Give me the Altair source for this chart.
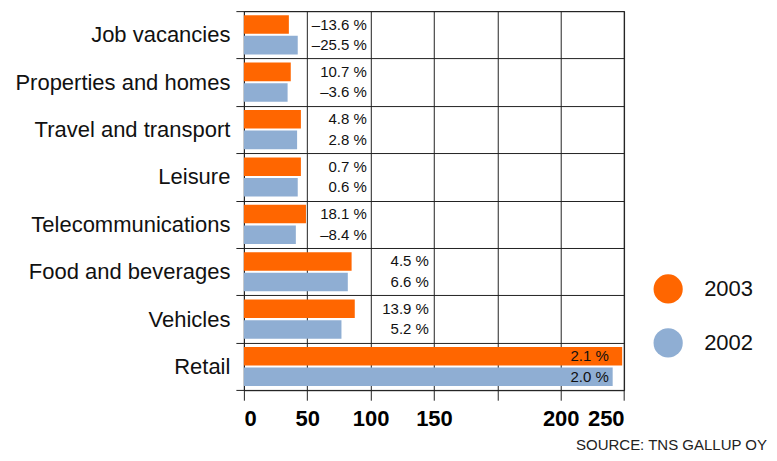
import altair as alt
import pandas as pd

categories = ["Job vacancies", "Properties and homes", "Travel and transport", "Leisure",
              "Telecommunications", "Food and beverages", "Vehicles", "Retail"]
years = ["2003", "2002"]
v2003 = [35.5, 37, 45, 45, 49, 85, 87.5, 248.5]
v2002 = [42.5, 34.5, 42, 42.5, 41, 82, 77, 241]
chg2003 = ["–13.6 %", "10.7 %", "4.8 %", "0.7 %", "18.1 %", "4.5 %", "13.9 %", "2.1 %"]
chg2002 = ["–25.5 %", "–3.6 %", "2.8 %", "0.6 %", "–8.4 %", "6.6 %", "5.2 %", "2.0 %"]
label_anchor = [97, 97, 97, 97, 97, 146, 146, 238]
x_ticks = [0, 50, 100, 150, 175, 200, 250]
colors = ["#FF6600", "#8FAED3"]

rows = []
for i, c in enumerate(categories):
    rows.append({"category": c, "year": "2003", "value": v2003[i], "label": chg2003[i], "anchor": label_anchor[i]})
    rows.append({"category": c, "year": "2002", "value": v2002[i], "label": chg2002[i], "anchor": label_anchor[i]})
df = pd.DataFrame(rows)

W = 380.4
H = 379.3
FONT = "Liberation Sans"

xscale = alt.Scale(domain=[0, 150, 200, 250], range=[0, 190.2, 317, W], nice=False, zero=False)
yscale = alt.Scale(domain=categories, paddingInner=0, paddingOuter=0)
offscale = alt.Scale(domain=years, paddingInner=0.1, paddingOuter=0.2)

bars = alt.Chart(df).mark_bar(cornerRadius=0).encode(
    x=alt.X("value:Q", scale=xscale, title=None,
            axis=alt.Axis(values=x_ticks, labelExpr="datum.value == 175 ? '' : datum.label",
                          grid=True, gridColor="#222", gridWidth=1, tickSize=10, tickColor="#222",
                          domain=False, labelFont=FONT, labelFontSize=22, labelFontWeight="bold",
                          labelColor="#000", labelPadding=8)),
    y=alt.Y("category:N", scale=yscale, sort=categories, title=None,
            axis=alt.Axis(tickBand="extent", grid=True, gridColor="#222", gridWidth=1,
                          tickSize=8, tickColor="#222", domain=False, labelFont=FONT,
                          labelFontSize=22, labelColor="#111", labelPadding=6, labelLimit=400)),
    yOffset=alt.YOffset("year:N", scale=offscale, sort=years),
    color=alt.Color("year:N", scale=alt.Scale(domain=years, range=colors), sort=years,
                    legend=alt.Legend(title=None, orient="none", legendX=409.5, legendY=263,
                                      symbolType="circle", symbolSize=855, symbolStrokeWidth=0,
                                      labelFont=FONT, labelFontSize=22, labelColor="#111",
                                      rowPadding=24, labelOffset=21, padding=0)),
)

labels = alt.Chart(df).mark_text(align="right", baseline="middle", font=FONT, fontSize=15,
                                  color="#111").encode(
    x=alt.X("anchor:Q", scale=xscale),
    y=alt.Y("category:N", scale=yscale, sort=categories),
    yOffset=alt.YOffset("year:N", scale=offscale, sort=years),
    text="label:N",
)

chart = alt.layer(bars, labels).properties(
    width=W, height=H,
    autosize=alt.AutoSizeParams(type="none"),
    padding={"left": 236, "top": 3, "right": 145, "bottom": 63},
    title=alt.TitleParams("SOURCE: TNS GALLUP OY", orient="bottom", anchor="end", frame="group",
                          font=FONT, fontSize=15, fontWeight="normal", color="#222",
                          dx=143, offset=9),
).configure_view(stroke="#222", strokeWidth=1)

chart.save("out.html", embed_options={"renderer": "svg", "actions": False})
